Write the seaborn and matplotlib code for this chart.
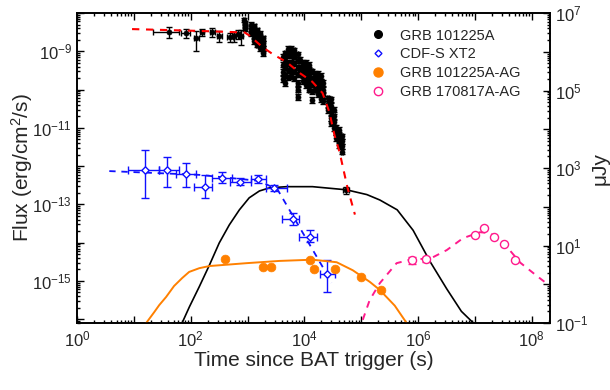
import numpy as np
import pandas as pd
import matplotlib
matplotlib.use("Agg")
import matplotlib.pyplot as plt
import seaborn as sns
from matplotlib.lines import Line2D
from matplotlib.ticker import LogLocator, FuncFormatter, NullFormatter

# ---------------- data ----------------
# GRB 101225A X-ray light curve (erg/cm^2/s)
grb_t = [42, 84, 125, 160, 240, 320, 500, 590, 690, 780,
         880, 890, 900, 910,
         # flare 1
         1172, 1172, 1172, 1324, 1324, 1324, 1324, 1496, 1496, 1496, 1496,
         1690, 1690, 1690, 1690, 1906, 1906, 1906, 1906,
         # flare 2
         4130, 4130, 4130, 4130, 4660, 4660, 4660, 4660, 4660,
         5260, 5260, 5260, 5260, 5260, 5940, 5940, 5940, 5940, 5940,
         6710, 6710, 6710, 6710, 6710, 7580, 7580, 7580, 7580, 7580, 7580, 7580,
         8230, 8230, 8230,
         # flare 3
         9290, 9290, 9290, 9290, 10500, 10500, 10500, 10500, 10500,
         11900, 11900, 11900, 11900, 11900, 13400, 13400, 13400, 13400, 13400,
         # flare 4
         15100, 15100, 15100, 15100, 17100, 17100, 17100, 17100, 17100,
         19300, 19300, 19300, 19300, 19300, 20900, 20900, 20900, 20900,
         # decay
         25700, 25700, 25700, 29000, 29000, 29000, 29000, 29000,
         32700, 32700, 32700, 32700,
         35500, 35500, 35500, 40000, 40000, 40000, 40000, 45300, 45300, 45300, 45300,
         55000]
grb_f = [3.2e-9, 3.0e-9, 2.2e-9, 3.2e-9, 3.2e-9, 2.5e-9, 2.4e-9, 2.5e-9, 2.8e-9, 2.5e-9,
         6.6e-9, 5.5e-9, 4.6e-9, 3.8e-9,
         4.9e-9, 3.9e-9, 3.0e-9, 4.5e-9, 3.4e-9, 2.5e-9, 1.9e-9, 3.6e-9, 2.7e-9, 2.0e-9, 1.5e-9,
         2.9e-9, 2.1e-9, 1.6e-9, 1.2e-9, 2.2e-9, 1.6e-9, 1.2e-9, 9e-10,
         7.1e-10, 4.5e-10, 2.9e-10, 1.9e-10, 9.0e-10, 6e-10, 3.9e-10, 2.4e-10, 1.5e-10,
         1.15e-9, 8e-10, 5e-10, 3.2e-10, 2.1e-10, 1.15e-9, 8e-10, 5e-10, 3.3e-10, 2.3e-10,
         1.05e-9, 7.5e-10, 4.8e-10, 3e-10, 2.0e-10, 8.5e-10, 6e-10, 3.8e-10, 2.5e-10, 1.5e-10, 1.0e-10, 6.5e-11,
         6e-10, 3.8e-10, 2.6e-10,
         5e-10, 3.6e-10, 2.5e-10, 1.7e-10, 5.0e-10, 3.8e-10, 2.7e-10, 1.9e-10, 1.3e-10,
         4.5e-10, 3.2e-10, 2.2e-10, 1.5e-10, 1.0e-10, 3e-10, 2e-10, 1.4e-10, 9e-11, 5.4e-11,
         2.6e-10, 1.9e-10, 1.4e-10, 1.0e-10, 2.6e-10, 1.9e-10, 1.4e-10, 1.0e-10, 7.5e-11,
         2.3e-10, 1.6e-10, 1.1e-10, 8e-11, 5.5e-11, 1.5e-10, 1.0e-10, 7e-11, 5e-11,
         6e-11, 4.2e-11, 2.9e-11, 5.5e-11, 3.8e-11, 2.6e-11, 1.8e-11, 1.3e-11,
         3e-11, 2e-11, 1.4e-11, 1.0e-11,
         1.0e-11, 7.5e-12, 5.5e-12, 9e-12, 6.5e-12, 4.8e-12, 3.6e-12, 6e-12, 4.4e-12, 3.3e-12, 2.4e-12,
         2.4e-13]
# relative errors (x and y)
grb_dt = [0.48, 0.18, 0.10, 0.09, 0.10, 0.09, 0.12, 0.08, 0.09, 0.08,
          0.045, 0.045, 0.045, 0.045,
          0.05, 0.05, 0.05, 0.05, 0.05, 0.05, 0.05, 0.05, 0.05, 0.05, 0.05,
          0.05, 0.05, 0.05, 0.05, 0.05, 0.05, 0.05, 0.05,
          0.04, 0.04, 0.04, 0.04, 0.04, 0.04, 0.04, 0.04, 0.04,
          0.04, 0.04, 0.04, 0.04, 0.04, 0.04, 0.04, 0.04, 0.04, 0.04,
          0.04, 0.04, 0.04, 0.04, 0.04, 0.04, 0.04, 0.04, 0.04, 0.04, 0.04, 0.04,
          0.04, 0.04, 0.04,
          0.04, 0.04, 0.04, 0.04, 0.04, 0.04, 0.04, 0.04, 0.04,
          0.04, 0.04, 0.04, 0.04, 0.04, 0.04, 0.04, 0.04, 0.04, 0.04,
          0.04, 0.04, 0.04, 0.04, 0.04, 0.04, 0.04, 0.04, 0.04,
          0.04, 0.04, 0.04, 0.04, 0.04, 0.04, 0.04, 0.04, 0.04,
          0.04, 0.04, 0.04, 0.04, 0.04, 0.04, 0.04, 0.04,
          0.04, 0.04, 0.04, 0.04,
          0.04, 0.04, 0.04, 0.04, 0.04, 0.04, 0.04, 0.04, 0.04, 0.04, 0.04,
          0.13]
grb_df = [0.31, 0.27, 0.55, 0.22, 0.25, 0.32, 0.25, 0.28, 0.25, 0.40,
          0.12, 0.12, 0.12, 0.12,
          0.16, 0.16, 0.16, 0.16, 0.16, 0.16, 0.16, 0.16, 0.16, 0.16, 0.16,
          0.16, 0.16, 0.16, 0.16, 0.16, 0.16, 0.16, 0.16,
          0.16, 0.16, 0.16, 0.16, 0.16, 0.16, 0.16, 0.16, 0.16,
          0.16, 0.16, 0.16, 0.16, 0.16, 0.16, 0.16, 0.16, 0.16, 0.16,
          0.16, 0.16, 0.16, 0.16, 0.16, 0.16, 0.16, 0.16, 0.16, 0.16, 0.16, 0.16,
          0.16, 0.16, 0.16,
          0.16, 0.16, 0.16, 0.16, 0.16, 0.16, 0.16, 0.16, 0.16,
          0.16, 0.16, 0.16, 0.16, 0.16, 0.16, 0.16, 0.16, 0.16, 0.16,
          0.16, 0.16, 0.16, 0.16, 0.16, 0.16, 0.16, 0.16, 0.16,
          0.16, 0.16, 0.16, 0.16, 0.16, 0.16, 0.16, 0.16, 0.16,
          0.16, 0.16, 0.16, 0.16, 0.16, 0.16, 0.16, 0.16,
          0.16, 0.16, 0.16, 0.16,
          0.16, 0.16, 0.16, 0.16, 0.16, 0.16, 0.16, 0.16, 0.16, 0.16, 0.16,
          0.2]

# GRB 101225A fit (red dashed)
grbfit_t = [9.3, 141, 890, 1070, 1820, 2750, 4900, 8300, 13800, 20900, 27500, 33900, 41700, 57500, 77600]
grbfit_f = [3.8e-9, 3.4e-9, 3.1e-9, 2.6e-9, 1.3e-9, 8.5e-10, 5.2e-10, 2.7e-10, 1.6e-10, 8.1e-11,
            2.6e-11, 6.5e-12, 2.3e-12, 2.7e-13, 5.4e-14]

# CDF-S XT2
xt2_t = [16, 39, 84, 182, 360, 745, 1560, 2970, 6200, 12400, 24600]
xt2_f = [7.9e-13, 7.9e-13, 6.3e-13, 2.9e-13, 4.9e-13, 3.9e-13, 4.7e-13, 2.7e-13, 4.2e-14, 1.4e-14, 1.55e-15]
xt2_tlo = [7.9, 28, 56, 115, 240, 500, 1170, 2150, 4000, 7900, 18500]
xt2_thi = [28, 63, 126, 240, 525, 1170, 2150, 5000, 8200, 16500, 34000]
xt2_flo = [1.5e-13, 2.9e-13, 2.9e-13, 1.5e-13, 3.6e-13, 3.2e-13, 3.6e-13, 2.2e-13, 2.9e-14, 1.05e-14, 5.2e-16]
xt2_fhi = [2.6e-12, 1.74e-12, 1.2e-12, 5.9e-13, 7.1e-13, 4.9e-13, 5.9e-13, 3.2e-13, 6e-14, 2.1e-14, 3.5e-15]

# CDF-S XT2 fit (blue dashed)
xt2fit_t = [3.7, 141, 1620, 3400, 24600, 30000]
xt2fit_f = [7.4e-13, 5.9e-13, 4.1e-13, 2.4e-13, 1.55e-15, 8.9e-16]

# model (black solid)
model_t = [60, 71, 95, 142, 214, 318, 478, 720, 1070, 1620, 2440, 4900, 13900, 55000, 126000,
           213000, 430000, 820000, 1630000, 3200000, 5800000, 9300000, 12000000]
model_f = [4.8e-17, 8.1e-17, 2.1e-16, 7.1e-16, 2.6e-15, 9.8e-15, 2.9e-14, 7.2e-14, 1.48e-13, 2.24e-13,
           2.7e-13, 2.9e-13, 2.9e-13, 2.4e-13, 1.8e-13, 1.3e-13, 7.2e-14, 2.1e-14, 3.2e-15, 6.2e-16,
           1.6e-16, 8.1e-17, 4.0e-17]

# GRB 101225A-AG (uJy)
ag1_t = [407, 1900, 2640, 12400, 15000, 35000, 98000, 220000]
ag1_f = [4.5, 2.8, 2.8, 4.3, 2.5, 2.5, 1.5, 0.71]
ag1fit_t = [12, 16.5, 22.8, 28, 37, 51, 71, 94, 142, 214, 960, 3650, 13900, 37000, 71000, 142000,
            213000, 390000, 630000, 800000]
ag1fit_f = [0.05, 0.1, 0.19, 0.29, 0.47, 0.90, 1.45, 2.08, 2.6, 2.95, 3.5, 4.0, 4.3, 3.7, 2.3, 1.15,
            0.71, 0.28, 0.1, 0.06]

# GRB 170817A-AG (uJy)
ag2_t = [7.8e5, 1.37e6, 1.0e7, 1.45e7, 2.2e7, 3.3e7, 5.1e7]
ag2_f = [4.2, 4.5, 18.7, 28, 16.7, 11, 4.2]
ag2_ferr = [0.8, 0.7, 0, 0, 0, 0, 0]
ag2fit_t = [8.5e4, 1.02e5, 1.41e5, 2.13e5, 4.2e5, 8.1e5, 1.6e6, 3.2e6, 6.2e6, 1.23e7, 1.85e7, 3.1e7,
            6.3e7, 1.26e8, 2.1e8]
ag2fit_f = [0.06, 0.1, 0.39, 1.07, 3.5, 4.5, 4.5, 7.6, 15.5, 22, 21, 12.3, 3.6, 1.6, 0.9]

labels = ["GRB 101225A", "CDF-S XT2", "GRB 101225A-AG", "GRB 170817A-AG"]

# ---------------- style ----------------
sns.set_theme(style="ticks")
plt.rcParams["font.family"] = ["Liberation Sans", "DejaVu Sans"]
plt.rcParams["mathtext.fontset"] = "custom"
plt.rcParams["mathtext.rm"] = "Liberation Sans"
plt.rcParams["mathtext.it"] = "Liberation Sans:italic"
plt.rcParams["mathtext.bf"] = "Liberation Sans:bold"

BLUE = "#1010ff"
ORANGE = "#ff8000"
PINK = "#ff1a8c"
DASH = (0, (3.5, 3.2))

fig = plt.figure(figsize=(6.10, 3.90), dpi=100)
ax = fig.add_axes([77 / 610, 1 - 323 / 390, 473 / 610, 310 / 390])
ax.set_xscale("log")
ax.set_yscale("log")
ax.set_xlim(1, 2.1e8)
ax.set_ylim(10 ** -16.1, 1e-8)

ax2 = ax.twinx()
ax2.set_yscale("log")
ax2.set_ylim(0.1, 1e7)

# curves
sns.lineplot(x=grbfit_t, y=grbfit_f, ax=ax, color="red", lw=1.5, estimator=None,
             linestyle=DASH, zorder=6)
sns.lineplot(x=xt2fit_t, y=xt2fit_f, ax=ax, color=BLUE, lw=1.3, estimator=None,
             linestyle=DASH, zorder=3)
sns.lineplot(x=model_t, y=model_f, ax=ax, color="black", lw=1.2, estimator=None, zorder=2)
sns.lineplot(x=ag1fit_t, y=ag1fit_f, ax=ax2, color=ORANGE, lw=1.4, estimator=None, zorder=2)
sns.lineplot(x=ag2fit_t, y=ag2fit_f, ax=ax2, color=PINK, lw=1.4, estimator=None,
             linestyle=DASH, zorder=2)

# error bars
gt = np.array(grb_t, dtype=float)
gf = np.array(grb_f, dtype=float)
ax.errorbar(gt, gf, xerr=gt * np.array(grb_dt), yerr=gf * np.array(grb_df), fmt="none",
            ecolor="black", elinewidth=1.0, capsize=2.5, capthick=1.0, zorder=4)
xt2_xerr = [np.array(xt2_t) - np.array(xt2_tlo), np.array(xt2_thi) - np.array(xt2_t)]
xt2_yerr = [np.array(xt2_f) - np.array(xt2_flo), np.array(xt2_fhi) - np.array(xt2_f)]
ax.errorbar(xt2_t, xt2_f, xerr=xt2_xerr, yerr=xt2_yerr, fmt="none", ecolor=BLUE,
            elinewidth=1.0, capsize=3, capthick=1.0, zorder=4)
ax2.errorbar(ag2_t, ag2_f, yerr=ag2_ferr, fmt="none", ecolor=PINK, elinewidth=1.0,
             capsize=3, capthick=1.0, zorder=4)

# points
sns.scatterplot(x=grb_t, y=grb_f, ax=ax, color="black", s=13, edgecolor="black",
                linewidth=0.5, zorder=5)
sns.scatterplot(x=xt2_t, y=xt2_f, ax=ax, marker="D", s=14, facecolor="white",
                edgecolor=BLUE, linewidth=1.0, zorder=5)
sns.scatterplot(x=ag1_t, y=ag1_f, ax=ax2, color=ORANGE, s=40, edgecolor=ORANGE,
                linewidth=0.5, zorder=5)
sns.scatterplot(x=ag2_t, y=ag2_f, ax=ax2, marker="o", s=34, facecolor="white",
                edgecolor=PINK, linewidth=1.0, zorder=5)


# ticks
def fmt_factory(parity):
    def f(v, _):
        e = int(round(np.log10(v)))
        if abs(np.log10(v) - e) > 1e-6 or e % 2 != parity:
            return ""
        return "$10^{%d}$" % e
    return f


for a in (ax, ax2):
    a.tick_params(which="both", direction="in", width=1.0, labelsize=12, color="black")
    a.tick_params(which="major", length=5)
    a.tick_params(which="minor", length=2.5)
    for s in a.spines.values():
        s.set_linewidth(1.2)
        s.set_color("black")

ax.xaxis.set_major_locator(LogLocator(base=10, numticks=30))
ax.xaxis.set_minor_locator(LogLocator(base=10, subs=np.arange(2, 10), numticks=30))
ax.xaxis.set_major_formatter(FuncFormatter(fmt_factory(0)))
ax.xaxis.set_minor_formatter(NullFormatter())
ax.yaxis.set_major_locator(LogLocator(base=10, numticks=30))
ax.yaxis.set_minor_locator(LogLocator(base=10, subs=np.arange(2, 10), numticks=30))
ax.yaxis.set_major_formatter(FuncFormatter(fmt_factory(1)))
ax.yaxis.set_minor_formatter(NullFormatter())
ax2.yaxis.set_major_locator(LogLocator(base=10, numticks=30))
ax2.yaxis.set_minor_locator(LogLocator(base=10, subs=np.arange(2, 10), numticks=30))
ax2.yaxis.set_major_formatter(FuncFormatter(fmt_factory(1)))
ax2.yaxis.set_minor_formatter(NullFormatter())
ax.tick_params(axis="x", which="both", top=True, bottom=True, pad=5)
ax.tick_params(axis="y", which="both", left=True, right=False)
ax2.tick_params(axis="y", which="both", left=False, right=True)

ax.set_xlabel("Time since BAT trigger (s)", fontsize=15, labelpad=1)
ax.set_ylabel("Flux (erg/cm$^2$/s)", fontsize=15)
ax.yaxis.set_label_coords((35 - 77) / 473, 0.5)
ax2.set_ylabel("μJy", fontsize=15)
ax2.yaxis.set_label_coords((591 - 77) / 473, 0.5)

# legend
handles = [
    Line2D([], [], ls="none", marker="o", ms=5.5, mfc="black", mec="black"),
    Line2D([], [], ls="none", marker="D", ms=3.5, mfc="white", mec=BLUE, mew=1.0),
    Line2D([], [], ls="none", marker="o", ms=6.5, mfc=ORANGE, mec=ORANGE),
    Line2D([], [], ls="none", marker="o", ms=6, mfc="white", mec=PINK, mew=1.0),
]
ax2.legend(handles, labels, loc="upper left", bbox_to_anchor=(0.587, 0.978), frameon=False,
           fontsize=10.5, handletextpad=0.5, labelspacing=0.33, borderaxespad=0.2)

fig.savefig("out.png", dpi=100)
